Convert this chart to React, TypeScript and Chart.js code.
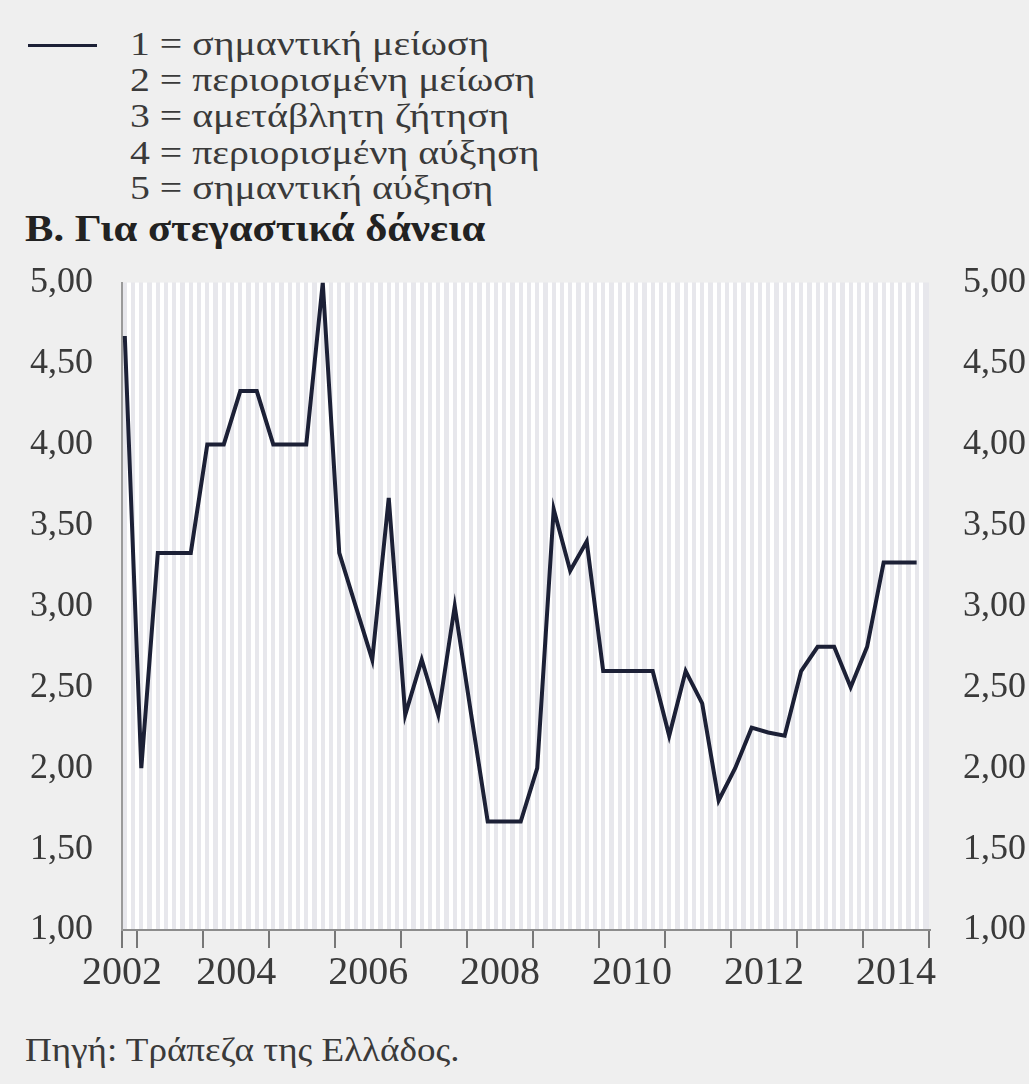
import React, { useEffect, useRef } from 'react';
import { Chart, registerables } from 'chart.js';

Chart.register(...registerables);

// ---- data ----
const quarters = [
  '2002Q4',
  '2003Q1', '2003Q2', '2003Q3', '2003Q4',
  '2004Q1', '2004Q2', '2004Q3', '2004Q4',
  '2005Q1', '2005Q2', '2005Q3', '2005Q4',
  '2006Q1', '2006Q2', '2006Q3', '2006Q4',
  '2007Q1', '2007Q2', '2007Q3', '2007Q4',
  '2008Q1', '2008Q2', '2008Q3', '2008Q4',
  '2009Q1', '2009Q2', '2009Q3', '2009Q4',
  '2010Q1', '2010Q2', '2010Q3', '2010Q4',
  '2011Q1', '2011Q2', '2011Q3', '2011Q4',
  '2012Q1', '2012Q2', '2012Q3', '2012Q4',
  '2013Q1', '2013Q2', '2013Q3', '2013Q4',
  '2014Q1', '2014Q2', '2014Q3', '2014Q4',
];

const housingLoans = [
  4.67,
  2.0, 3.33, 3.33, 3.33,
  4.0, 4.0, 4.33, 4.33,
  4.0, 4.0, 4.0, 5.0,
  3.33, 3.0, 2.67, 3.67,
  2.33, 2.67, 2.33, 3.0,
  2.33, 1.67, 1.67, 1.67,
  2.0, 3.6, 3.22, 3.4,
  2.6, 2.6, 2.6, 2.6,
  2.2, 2.6, 2.4, 1.8,
  2.0, 2.25, 2.22, 2.2,
  2.6, 2.75, 2.75, 2.5,
  2.75, 3.27, 3.27, 3.27,
];

const yTickValues = [1, 1.5, 2, 2.5, 3, 3.5, 4, 4.5, 5];
const yearLabels = ['2002', '2004', '2006', '2008', '2010', '2012', '2014'];

const legendItems = [
  '1 = σημαντική μείωση',
  '2 = περιορισμένη μείωση',
  '3 = αμετάβλητη ζήτηση',
  '4 = περιορισμένη αύξηση',
  '5 = σημαντική αύξηση',
];
const titleText = 'Β. Για στεγαστικά δάνεια';
const sourceText = 'Πηγή: Τράπεζα της Ελλάδος.';

// ---- helpers ----
const X_MIN = 2002.77;
const X_MAX = 2015;
const SERIF = "'Liberation Serif', 'Times New Roman', serif";
const TEXT = '#3a3a3a';

const quarterToX = (q: string) => {
  const y = Number(q.slice(0, 4));
  const n = Number(q.slice(5));
  return y + (n - 0.75) / 4;
};
const labelPos = (y: string) => (y === '2002' ? X_MIN : Number(y) + 0.5);
const near = (a: number, b: number) => Math.abs(a - b) < 1e-6;
const fmt = (v: number) => v.toFixed(2).replace('.', ',');

const plotBg = {
  id: 'plotBg',
  beforeDraw(chart: any) {
    const { ctx, chartArea } = chart;
    if (!chartArea) return;
    ctx.save();
    ctx.fillStyle = '#e7e7ec';
    ctx.fillRect(chartArea.left, chartArea.top, chartArea.right - chartArea.left, chartArea.bottom - chartArea.top);
    ctx.restore();
  },
};

export default function App() {
  const canvasRef = useRef<HTMLCanvasElement | null>(null);

  useEffect(() => {
    if (!canvasRef.current) return;
    const chart = new Chart(canvasRef.current, {
      type: 'line',
      data: {
        datasets: [
          {
            label: 'Στεγαστικά δάνεια',
            data: quarters.map((q, i) => ({ x: quarterToX(q), y: housingLoans[i] })),
            borderColor: '#1c2036',
            borderWidth: 4,
            pointRadius: 0,
            tension: 0,
            yAxisID: 'y',
          },
        ],
      },
      plugins: [plotBg],
      options: {
        animation: false,
        responsive: false,
        devicePixelRatio: 1,
        layout: { padding: { top: 8, left: 0, right: 0, bottom: 0 } },
        plugins: { legend: { display: false }, tooltip: { enabled: false } },
        scales: {
          x: {
            type: 'linear',
            position: 'bottom',
            min: X_MIN,
            max: X_MAX,
            afterBuildTicks: (scale: any) => {
              const t: any[] = [{ value: X_MIN }];
              for (let k = Math.ceil(X_MIN * 8); k <= X_MAX * 8; k++) t.push({ value: k / 8 });
              scale.ticks = t;
            },
            afterFit: (scale: any) => {
              scale.height = 70;
            },
            grid: {
              drawOnChartArea: true,
              drawTicks: true,
              tickLength: 18,
              tickWidth: 2,
              lineWidth: 4,
              color: (ctx: any) =>
                ctx.tick && (near(ctx.tick.value, X_MIN) || near(ctx.tick.value, X_MAX)) ? 'rgba(0,0,0,0)' : '#ffffff',
              tickColor: (ctx: any) => {
                const v = ctx.tick ? ctx.tick.value : 0;
                return near(v, Math.round(v)) || near(v, X_MIN) ? '#777777' : 'rgba(0,0,0,0)';
              },
            },
            border: { display: true, color: '#8c8c8c', width: 2 },
            ticks: {
              autoSkip: false,
              maxRotation: 0,
              minRotation: 0,
              padding: 1,
              color: TEXT,
              font: { family: SERIF, size: 40 },
              callback: (value: any) => {
                const v = Number(value);
                const lbl = yearLabels.find((y) => near(labelPos(y), v));
                return lbl ?? '';
              },
            },
          },
          y: {
            type: 'linear',
            position: 'left',
            min: 1,
            max: 5,
            afterBuildTicks: (scale: any) => {
              scale.ticks = yTickValues.map((v) => ({ value: v }));
            },
            afterFit: (scale: any) => {
              scale.width = 122;
            },
            grid: { display: false },
            border: { display: true, color: '#9a9a9a', width: 2 },
            ticks: {
              padding: 21,
              color: TEXT,
              font: { family: SERIF, size: 36 },
              callback: (value: any) => fmt(Number(value)),
            },
          },
          y2: {
            type: 'linear',
            position: 'right',
            min: 1,
            max: 5,
            afterBuildTicks: (scale: any) => {
              scale.ticks = yTickValues.map((v) => ({ value: v }));
            },
            afterFit: (scale: any) => {
              scale.width = 100;
            },
            grid: { display: false },
            border: { display: false },
            ticks: {
              padding: 26,
              color: TEXT,
              font: { family: SERIF, size: 36 },
              callback: (value: any) => fmt(Number(value)),
            },
          },
        },
      },
    } as any);
    return () => chart.destroy();
  }, []);

  const legendCenters = [46, 82, 118, 155, 190];

  return (
    <div
      style={{
        position: 'absolute',
        left: 0,
        top: 0,
        width: 1029,
        height: 1084,
        background: '#efefef',
        overflow: 'hidden',
        fontFamily: SERIF,
        color: TEXT,
      }}
    >
      <div style={{ position: 'absolute', left: 28, top: 44, width: 69, height: 3, background: '#1c2036' }} />
      {legendItems.map((t, i) => (
        <div
          key={t}
          style={{
            position: 'absolute',
            left: 130,
            top: legendCenters[i] - 20,
            fontSize: 34,
            lineHeight: '36px',
            whiteSpace: 'nowrap',
            transform: 'scaleX(1.17)',
            transformOrigin: 'left center',
          }}
        >
          {t}
        </div>
      ))}
      <div
        style={{
          position: 'absolute',
          left: 25,
          top: 207,
          fontSize: 38,
          lineHeight: '42px',
          fontWeight: 'bold',
          color: '#222',
          whiteSpace: 'nowrap',
          transform: 'scaleX(1.12)',
          transformOrigin: 'left center',
        }}
      >
        {titleText}
      </div>
      <canvas
        ref={canvasRef}
        width={1029}
        height={765}
        style={{ position: 'absolute', left: 0, top: 235, width: 1029, height: 765 }}
      />
      <div
        style={{
          position: 'absolute',
          left: 25,
          top: 1030,
          fontSize: 34,
          lineHeight: '40px',
          whiteSpace: 'nowrap',
          transform: 'scaleX(1.09)',
          transformOrigin: 'left center',
        }}
      >
        {sourceText}
      </div>
    </div>
  );
}
